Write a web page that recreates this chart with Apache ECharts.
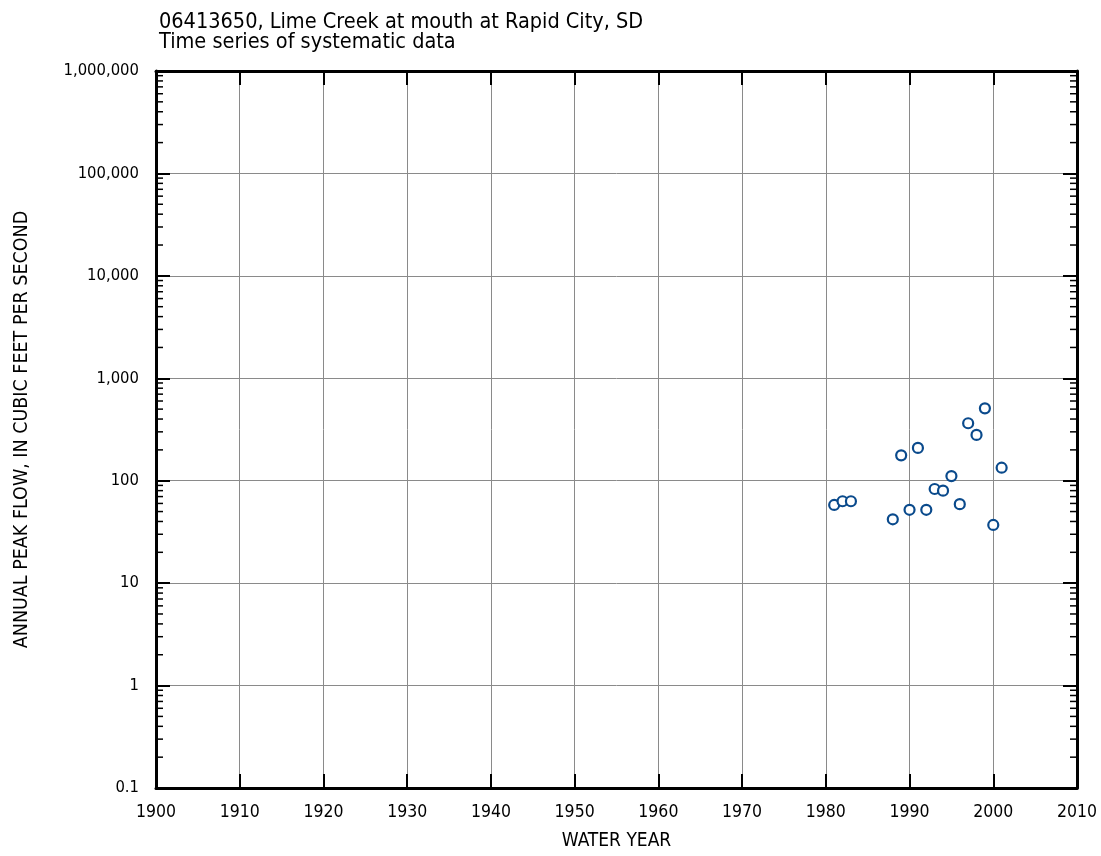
<!DOCTYPE html>
<html>
<head>
<meta charset="utf-8">
<script src="https://cdn.jsdelivr.net/npm/echarts@6/dist/echarts.min.js"></script>
<style>html,body{margin:0;padding:0;background:#fff;}#chart{width:1101px;height:856px;}</style>
</head>
<body>
<div id="chart"></div>
<script>
var titleLines = ['06413650, Lime Creek at mouth at Rapid City, SD', 'Time series of systematic data'];
var years = [1981, 1982, 1983, 1988, 1989, 1990, 1991, 1992, 1993, 1994, 1995, 1996, 1997, 1998, 1999, 2000, 2001];
var peaks = [58, 63, 63, 42, 177, 52, 209, 52, 83, 80, 111, 59, 364, 280, 509, 37, 134];
var xTitle = 'WATER YEAR';
var yTitle = 'ANNUAL PEAK FLOW, IN CUBIC FEET PER SECOND';
var yMin = 0.1, yMax = 1000000;
var xMin = 1900, xMax = 2010, xStep = 10;

var FONT = "'Liberation Sans Narrow', 'DejaVu Sans Condensed', sans-serif";

var minorVals = [];
for (var e = -1; e < 6; e++) {
  for (var m = 2; m <= 9; m++) minorVals.push(+(m * Math.pow(10, e)).toPrecision(3));
}

function fmtY(v) {
  if (v < 1) return String(+v.toPrecision(2));
  return Math.round(v).toString().replace(/\B(?=(\d{3})+(?!\d))/g, ',');
}

var chart = echarts.init(document.getElementById('chart'), null, {renderer: 'canvas'});
var axisLineStyle = {color: '#000', width: 3};
var option = {
  animation: false,
  backgroundColor: '#fff',
  title: {
    text: titleLines.join('\n'),
    left: 154, top: 7,
    textStyle: {fontFamily: FONT, fontSize: 21.5, fontWeight: 'normal', color: '#000', lineHeight: 20}
  },
  grid: {left: 156, right: 24, top: 71, bottom: 66, containLabel: false},
  xAxis: [{
    type: 'value', min: xMin, max: xMax, interval: xStep, position: 'bottom',
    name: xTitle, nameLocation: 'middle', nameGap: 44,
    nameTextStyle: {fontFamily: FONT, fontSize: 19, color: '#000'},
    axisLine: {show: true, onZero: false, lineStyle: axisLineStyle},
    axisTick: {show: true, inside: true, length: 14, lineStyle: {color: '#000', width: 2}},
    axisLabel: {fontFamily: FONT, fontSize: 17.5, color: '#000', margin: 15, showMinLabel: true, showMaxLabel: true,
      formatter: function (v) { return String(v); }},
    splitLine: {show: true, lineStyle: {color: '#8a8a8a', width: 1}}
  }, {
    type: 'value', min: xMin, max: xMax, interval: xStep, position: 'top',
    axisLine: {show: true, onZero: false, lineStyle: axisLineStyle},
    axisTick: {show: true, inside: true, length: 14, lineStyle: {color: '#000', width: 2}},
    axisLabel: {show: false},
    splitLine: {show: false}
  }],
  yAxis: [{
    type: 'log', logBase: 10, min: yMin, max: yMax, position: 'left',
    name: yTitle, nameLocation: 'middle', nameGap: 124, nameRotate: 90,
    nameTextStyle: {fontFamily: FONT, fontSize: 19.5, color: '#000'},
    axisLine: {show: true, onZero: false, lineStyle: axisLineStyle},
    axisTick: {show: true, inside: true, length: 14, lineStyle: {color: '#000', width: 2}},
    axisLabel: {fontFamily: FONT, fontSize: 16.5, color: '#000', margin: 17, formatter: fmtY, showMinLabel: true, showMaxLabel: true},
    splitLine: {show: true, lineStyle: {color: '#8a8a8a', width: 1}}
  }, {
    type: 'log', logBase: 10, min: yMin, max: yMax, position: 'right',
    axisLine: {show: true, onZero: false, lineStyle: axisLineStyle},
    axisTick: {show: true, inside: true, length: 14, lineStyle: {color: '#000', width: 2}},
    axisLabel: {show: false},
    splitLine: {show: false}
  }],
  series: [{
    type: 'custom',
    xAxisIndex: 0, yAxisIndex: 0,
    silent: true,
    clip: false,
    data: minorVals.map(function (v) { return [xMin, v]; }),
    renderItem: function (params, api) {
      var v = api.value(1);
      var l = api.coord([xMin, v]);
      var r = api.coord([xMax, v]);
      return {
        type: 'group',
        children: [
          {type: 'line', shape: {x1: l[0], y1: l[1], x2: l[0] + 7, y2: l[1]}, style: {stroke: '#000', lineWidth: 1.5}},
          {type: 'line', shape: {x1: r[0] - 7, y1: r[1], x2: r[0], y2: r[1]}, style: {stroke: '#000', lineWidth: 1.5}}
        ]
      };
    },
    z: 3
  }, {
    type: 'scatter',
    xAxisIndex: 0, yAxisIndex: 0,
    data: years.map(function (y, i) { return [y, peaks[i]]; }),
    symbol: 'circle',
    symbolSize: 10,
    itemStyle: {color: '#fff', borderColor: '#0a4a8c', borderWidth: 2.2, opacity: 1},
    z: 5
  }]
};
chart.setOption(option);
</script>
</body>
</html>
